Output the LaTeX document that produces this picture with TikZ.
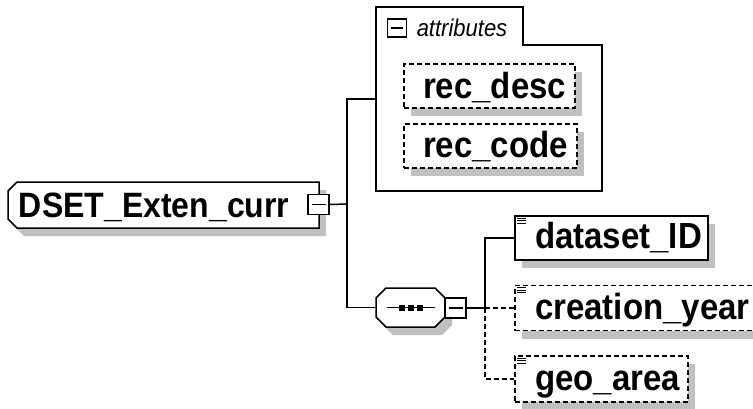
\documentclass[tikz,border=0pt]{standalone}
\usepackage{fontspec}
\setmainfont{Liberation Sans}
\usetikzlibrary{shadows}
\definecolor{shadowgray}{HTML}{C0C0C0}
\begin{document}
\begin{tikzpicture}[x=1pt,y=-1pt,line width=1.5pt,
  conn/.style={draw=black,line width=1.5pt},
  dconn/.style={conn,dash pattern=on 5pt off 3pt},
  shad/.style={drop shadow={shadow xshift=7pt,shadow yshift=-8pt,fill=shadowgray,opacity=1,draw=none}},
  elem/.style={draw,fill=white,inner sep=0pt,shad},
  optelem/.style={elem,dash pattern=on 5pt off 3pt},
  ghost/.style={inner sep=0pt,draw=none},
  tog/.style={draw,fill=white,inner sep=0pt,minimum width=21pt,minimum height=20pt},
  lbl/.style={font=\fontsize{33}{33}\selectfont\bfseries,inner sep=0pt,anchor=base west},
  mainlbl/.style={lbl,font=\fontsize{32}{32}\selectfont\bfseries},
  attrlbl/.style={font=\fontsize{22}{22}\selectfont\itshape,inner sep=0pt,anchor=base west},
  icon/.style={line width=0.9pt}
]
\newcommand{\tallt}[1]{\scalebox{1}[1.1]{#1}}
\useasboundingbox (0,0) rectangle (753,408);

% main element
\fill[shadowgray,shift={(7,8)}] (17,182) -- (319,182) -- (319,228) -- (17,228) -- (8,219) -- (8,191) -- cycle;
\draw[fill=white] (17,182) -- (319,182) -- (319,228) -- (17,228) -- (8,219) -- (8,191) -- cycle;
\node[ghost,minimum width=311pt,minimum height=46pt] (main) at (163.5,205) {};
\node[mainlbl] (maintxt) at ([xshift=11pt,yshift=11pt]main.south west) {\tallt{DSET\_Exten\_curr}};
\node[tog] (mtog) at (318.5,204.5) {};
\draw[line width=1.1pt] ([xshift=-7pt]mtog.center) -- ([xshift=7pt]mtog.center);

% attributes group
\node[ghost,minimum width=226pt,minimum height=184pt] (attr) at (489,99) {};
\draw (376,7) -- (523,7) -- (523,45) -- (602,45) -- (602,191) -- (376,191) -- cycle;
\node[draw,fill=white,inner sep=0pt,minimum width=19pt,minimum height=18pt] (atog) at (397,28) {};
\draw[line width=1.1pt] ([xshift=-6pt]atog.center) -- ([xshift=6pt]atog.center);
\node[attrlbl] (attrtxt) at (416,36) {\tallt{attributes}};

\node[optelem,minimum width=171pt,minimum height=44pt] (rdesc) at (489.5,86) {};
\node[lbl] at ([xshift=19pt,yshift=10pt]rdesc.south west) {\tallt{rec\_desc}};
\node[optelem,minimum width=173pt,minimum height=44pt] (rcode) at (490.5,146) {};
\node[lbl] at ([xshift=19pt,yshift=11pt]rcode.south west) {\tallt{rec\_code}};

% sequence
\fill[shadowgray,shift={(7,8)}] (386,288) -- (435,288) -- (445,298) -- (445,317) -- (435,327) -- (386,327) -- (376,317) -- (376,298) -- cycle;
\draw[fill=white] (386,288) -- (435,288) -- (445,298) -- (445,317) -- (435,327) -- (386,327) -- (376,317) -- (376,298) -- cycle;
\node[ghost,minimum width=69pt,minimum height=39pt] (seq) at (410.5,307.5) {};
\draw[line width=1.3pt] ([xshift=-23.5pt]seq.center) -- ([xshift=24.5pt]seq.center);
\foreach \dx in {-8.5,0.5,9.5}
  \fill ([xshift=\dx pt]seq.center) ++(-3,-3) rectangle ++(6,6);
\node[tog] (stog) at (455.5,308) {};
\draw[line width=1.1pt] ([xshift=-7pt]stog.center) -- ([xshift=7pt]stog.center);

% child elements
\node[elem,minimum width=193pt,minimum height=44pt] (dsid) at (611.5,238) {};
\node[lbl] at ([xshift=20pt,yshift=12pt]dsid.south west) {\tallt{dataset\_ID}};
\node[optelem,minimum width=240pt,minimum height=45pt] (cy) at (635,308) {};
\node[lbl] at ([xshift=20pt,yshift=12pt]cy.south west) {\tallt{creation\_year}};
\node[optelem,minimum width=173pt,minimum height=46pt] (geo) at (601.5,379) {};
\node[lbl] at ([xshift=20pt,yshift=12pt]geo.south west) {\tallt{geo\_area}};

\foreach \n in {dsid,cy,geo}{
  \foreach \dy in {3,5.5,8}
    \draw[icon] ([shift={(3pt,-\dy pt)}]\n.north west) -- ++(9,0);
}

% connectors
\coordinate (j1) at (347,204);
\coordinate (j2) at (485,308);
\draw[conn] (mtog.east) -- (j1);
\draw[conn] (attr.west) -| (j1) |- (seq.west);
\draw[conn] (stog.east) -- (j2);
\draw[conn] (j2) |- (dsid.west);
\draw[dconn] (j2) -- (cy.west);
\draw[dconn] (j2) |- (geo.west);
\end{tikzpicture}
\end{document}
